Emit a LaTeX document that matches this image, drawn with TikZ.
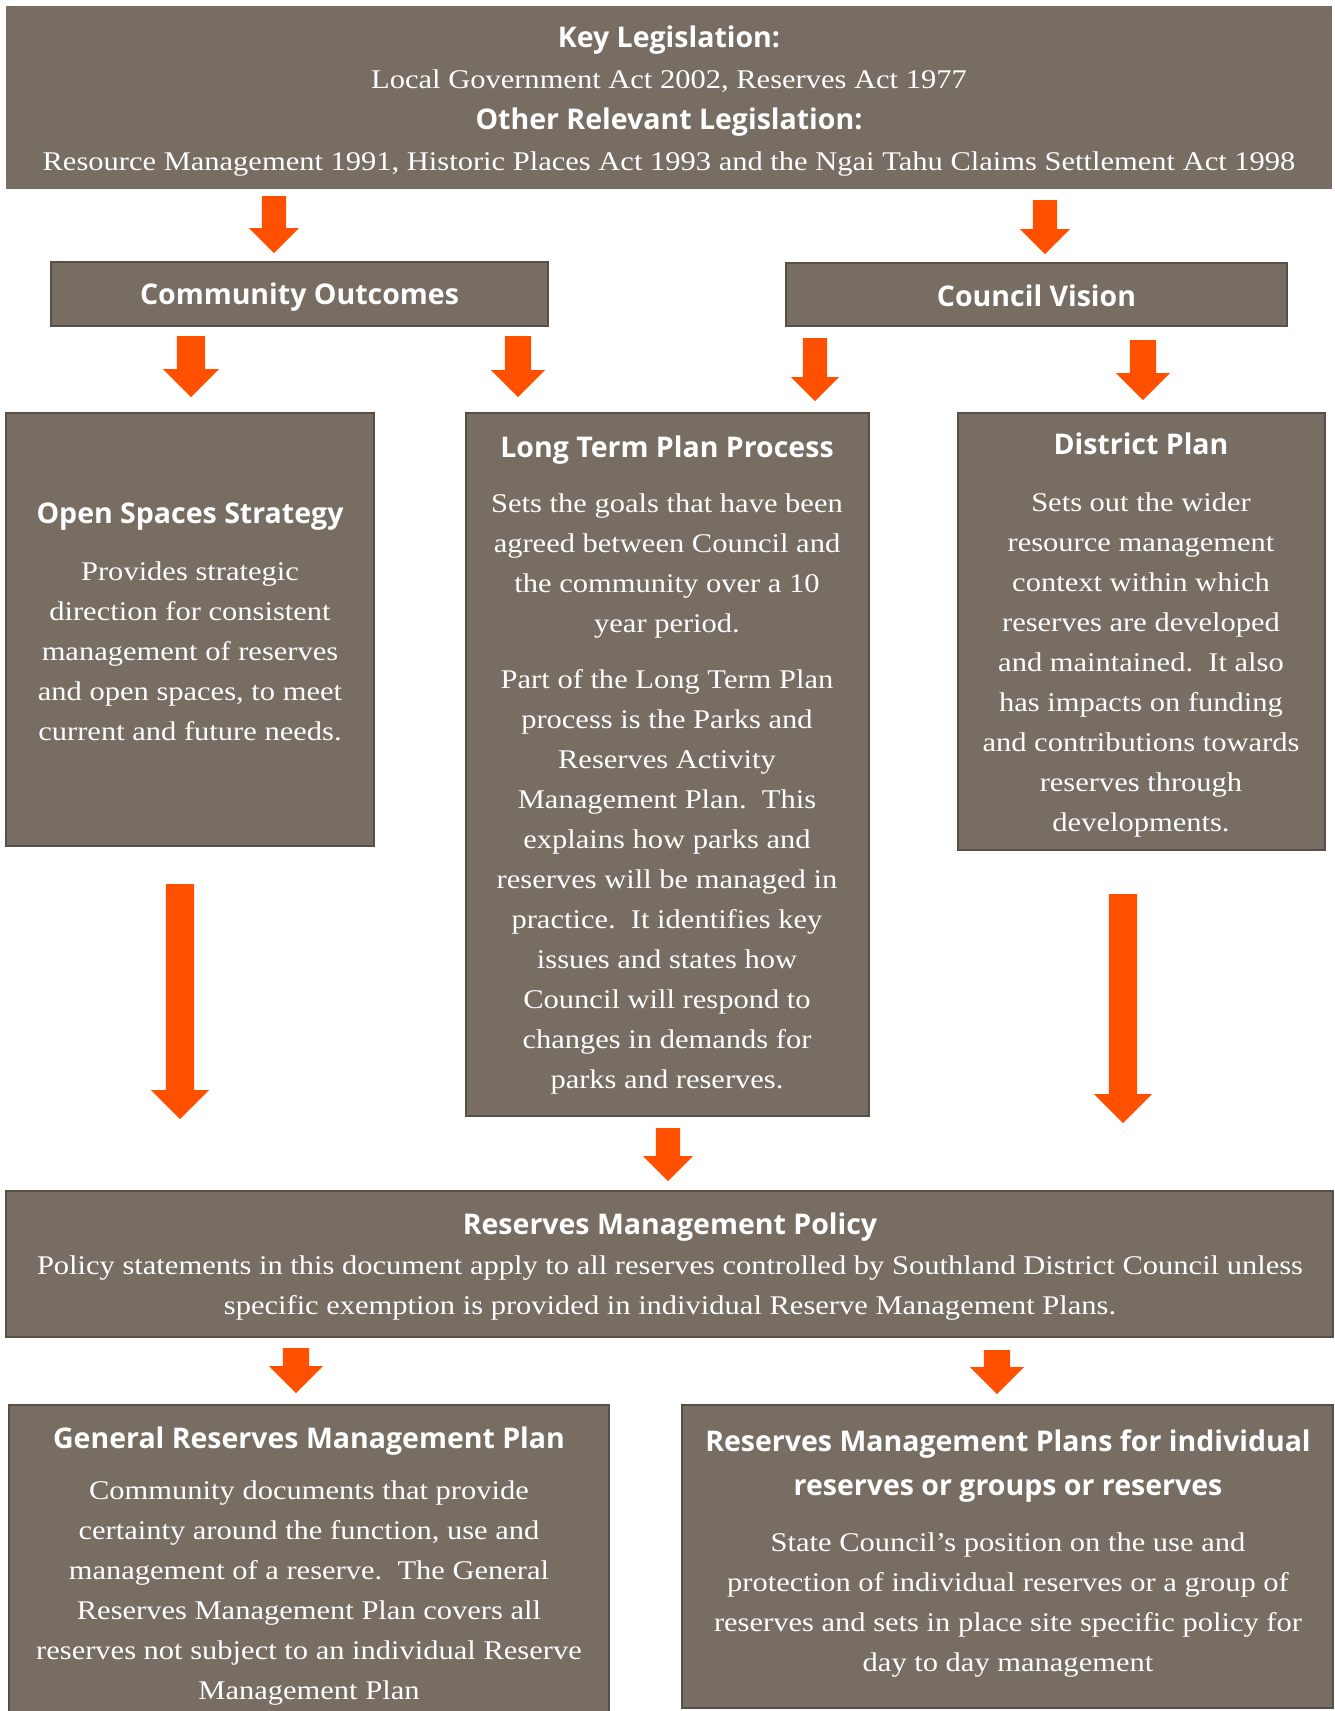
\documentclass[tikz,border=0pt]{standalone}
\usepackage{fontspec}
\setmainfont{Liberation Serif}[FakeStretch=1.13]
\newfontfamily\headfont{Open Sans}
\usetikzlibrary{shapes.arrows}

\definecolor{boxfill}{RGB}{119,109,99}
\definecolor{boxline}{RGB}{88,80,72}
\definecolor{arroworange}{RGB}{255,80,0}

\newcommand{\boxhead}[1]{{\headfont\bfseries\fontsize{28.5}{40}\selectfont #1}}

\tikzset{
  box/.style={rectangle, fill=boxfill, draw=boxline, line width=2.5pt, inner sep=0pt},
  txt/.style={text=white, align=center, inner sep=0pt, font=\fontsize{27}{40}\selectfont},
  downarrow/.style={single arrow, fill=arroworange, draw=none, anchor=tail, rotate=-90,
    single arrow head indent=0pt, inner xsep=0pt, inner ysep=13pt, single arrow head extend=14pt},
  bigarrow/.style={downarrow, inner ysep=14pt, single arrow head extend=15pt}
}

\begin{document}
\begin{tikzpicture}[x=1pt, y=-1pt]
    \fill[white] (0,0) rectangle (1335,1711);
    \useasboundingbox (0,0) rectangle (1335,1711);

    % Legislation
    \node[box, draw=none, minimum width=1326pt, minimum height=183pt] (legis) at (669,97.5) {};
    \node[txt, font=\fontsize{27}{41}\selectfont] (legistext) at (669,101) {\boxhead{Key Legislation:}\\
        Local Government Act 2002, Reserves Act 1977\\
        \boxhead{Other Relevant Legislation:}\\
        Resource Management 1991, Historic Places Act 1993 and the Ngai Tahu Claims Settlement Act 1998};

    % Outcomes and vision
    \node[box, minimum width=497pt, minimum height=64pt] (outcomes) at (299.5,294) {};
    \node[txt] (outcomestext) at (299.5,297) {\boxhead{Community Outcomes}};
    \node[box, minimum width=501pt, minimum height=63pt] (vision) at (1036.5,294.5) {};
    \node[txt] (visiontext) at (1036.5,296) {\boxhead{Council Vision}};

    % Strategy, long term plan, district plan
    \node[box, minimum width=368pt, minimum height=433pt] (strategy) at (190,629.5) {};
    \node[txt] (strategytext) at (190,622) {\boxhead{Open Spaces Strategy}\\[17pt]
        Provides strategic\\ direction for consistent\\ management of reserves\\
        and open spaces, to meet\\ current and future needs.};

    \node[box, minimum width=403pt, minimum height=703pt] (ltp) at (667.5,764.5) {};
    \node[txt] (ltptext) at (667,765) {\boxhead{Long Term Plan Process}\\[15pt]
        Sets the goals that have been\\ agreed between Council and\\ the community over a 10\\ year period.\\[16pt]
        Part of the Long Term Plan\\ process is the Parks and\\ Reserves Activity\\
        Management Plan.\ \ This\\ explains how parks and\\ reserves will be managed in\\
        practice.\ \ It identifies key\\ issues and states how\\ Council will respond to\\
        changes in demands for\\ parks and reserves.};

    \node[box, minimum width=367pt, minimum height=437pt] (district) at (1141.5,631.5) {};
    \node[txt] (districttext) at (1141,635) {\boxhead{District Plan}\\[17pt]
        Sets out the wider\\ resource management\\ context within which\\ reserves are developed\\
        and maintained.\ \ It also\\ has impacts on funding\\ and contributions towards\\
        reserves through\\ developments.};

    % Policy
    \node[box, minimum width=1327pt, minimum height=146pt] (policy) at (669.5,1264) {};
    \node[txt] (policytext) at (670,1267) {\boxhead{Reserves Management Policy}\\
        Policy statements in this document apply to all reserves controlled by Southland District Council unless\\
        specific exemption is provided in individual Reserve Management Plans.};

    % Plans
    \node[box, minimum width=600pt, minimum height=315pt] (general) at (309,1562.5) {};
    \node[txt] (generaltext) at (309,1566) {\boxhead{General Reserves Management Plan}\\[11pt]
        Community documents that provide\\ certainty around the function, use and\\
        management of a reserve.\ \ The General\\ Reserves Management Plan covers all\\
        reserves not subject to an individual Reserve\\ Management Plan};

    \node[box, minimum width=651pt, minimum height=303pt] (individual) at (1007.5,1556.5) {};
    \node[txt] (individualtext) at (1008,1553) {\boxhead{Reserves Management Plans for individual}\\[4pt]
        \boxhead{reserves or groups or reserves}\\[16pt]
        State Council's position on the use and\\ protection of individual reserves or a group of\\
        reserves and sets in place site specific policy for\\ day to day management};

    % Arrows
    \node[downarrow, inner ysep=12pt, single arrow head extend=13pt, minimum height=57pt] (arr1) at (274,196) {};
    \node[downarrow, inner ysep=12pt, single arrow head extend=13pt, minimum height=54pt] (arr2) at (1045,200) {};
    \node[downarrow, inner ysep=14pt, minimum height=61pt] (arr3) at (191,336) {};
    \node[downarrow, minimum height=61pt] (arr4) at (518,336) {};
    \node[downarrow, inner ysep=12pt, single arrow head extend=12pt, minimum height=63pt] (arr5) at (815,338) {};
    \node[downarrow, minimum height=60pt] (arr6) at (1143,340) {};
    \node[bigarrow, minimum height=235pt] (arr7) at (180,884) {};
    \node[bigarrow, minimum height=229pt] (arr8) at (1123,894) {};
    \node[downarrow, inner ysep=12pt, single arrow head extend=13pt, minimum height=53pt] (arr9) at (668,1128) {};
    \node[downarrow, minimum height=45pt] (arr10) at (296,1348) {};
    \node[downarrow, minimum height=44pt] (arr11) at (997,1350) {};
\end{tikzpicture}
\end{document}
